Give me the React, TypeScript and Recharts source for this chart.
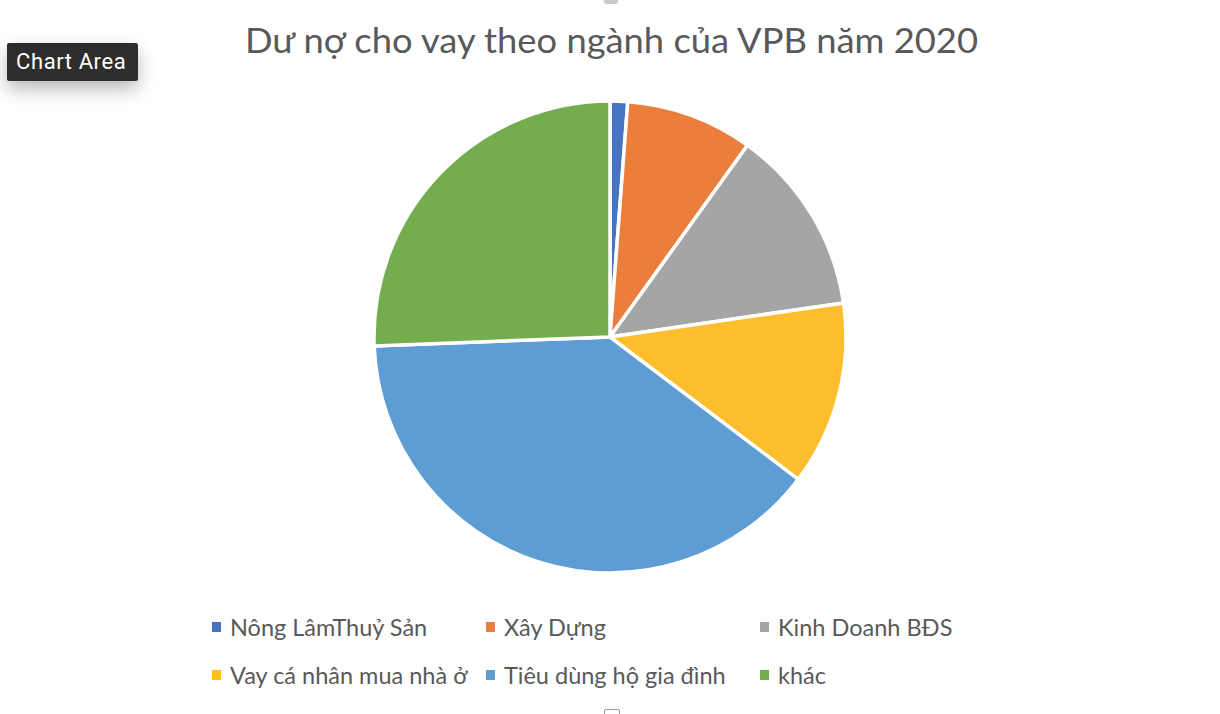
import React from 'react';
import { PieChart, Pie, Cell, Legend } from 'recharts';

const title = 'Dư nợ cho vay theo ngành của VPB năm 2020';
const categories = [
  'Nông LâmThuỷ Sản',
  'Xây Dựng',
  'Kinh Doanh BĐS',
  'Vay cá nhân mua nhà ở',
  'Tiêu dùng hộ gia đình',
  'khác',
];
const shares = [1.2, 8.7, 12.8, 12.6, 39.1, 25.6];
const colors = ['#4674C2', '#EB7E3B', '#A5A5A5', '#FCBE2D', '#5E9CD4', '#74AD4D'];

const data = categories.map((name, i) => ({ name, value: shares[i] }));

const FONT = 'Lato, "Open Sans", sans-serif';

const colX = [212, 486, 760];
const rowY = [627, 675];

function LegendGrid() {
  return (
    <div style={{ position: 'relative', width: 1220, height: 100 }}>
      {categories.map((name, i) => {
        const col = i % 3;
        const row = Math.floor(i / 3);
        const top = rowY[row] - 600;
        return (
          <div
            key={name}
            style={{
              position: 'absolute',
              left: colX[col],
              top: top - 15,
              height: 30,
              display: 'flex',
              alignItems: 'center',
              whiteSpace: 'nowrap',
            }}
          >
            <span
              style={{
                display: 'inline-block',
                width: 9,
                height: 10,
                background: colors[i],
                marginRight: 9,
              }}
            />
            <span style={{ fontFamily: FONT, fontSize: 23.5, color: '#595959' }}>{name}</span>
          </div>
        );
      })}
    </div>
  );
}

export default function App() {
  return (
    <div style={{ position: 'absolute', left: 0, top: 0, width: 1220, height: 714, background: '#fff', overflow: 'hidden' }}>
      <PieChart width={1220} height={714} margin={{ top: 0, right: 0, bottom: 0, left: 0 }}>
        <Pie
          data={data}
          dataKey="value"
          nameKey="name"
          cx={610}
          cy={337}
          outerRadius={236}
          startAngle={90}
          endAngle={-270}
          stroke="#ffffff"
          strokeWidth={3.5}
          isAnimationActive={false}
          legendType="square"
        >
          {data.map((d, i) => (
            <Cell key={d.name} fill={colors[i]} />
          ))}
        </Pie>
        <Legend
          content={<LegendGrid />}
          wrapperStyle={{ position: 'absolute', left: 0, top: 600, width: 1220, height: 100 }}
        />
      </PieChart>
      <svg style={{ position: 'absolute', left: 0, top: 0 }} width={1220} height={80}>
        <text
          x={245}
          y={53}
          fontFamily={FONT}
          fontSize={35}
          fill="#595959"
          textLength={733}
          lengthAdjust="spacingAndGlyphs"
        >
          {title}
        </text>
      </svg>
      <div
        style={{
          position: 'absolute',
          left: 7,
          top: 43,
          width: 131,
          height: 38,
          background: '#2d2d2d',
          borderRadius: 2,
          boxShadow: '0 8px 18px rgba(0,0,0,0.28)',
          color: '#ffffff',
          fontFamily: 'Roboto, "Liberation Sans", sans-serif',
          fontSize: 22,
          letterSpacing: 0.6,
          lineHeight: '38px',
          paddingLeft: 9,
          boxSizing: 'border-box',
          whiteSpace: 'nowrap',
        }}
      >
        Chart Area
      </div>
      <div style={{ position: 'absolute', left: 604, top: 709, width: 14, height: 10, border: '1px solid #9a9a9a', borderRadius: 2, background: '#fff' }} />
      <div style={{ position: 'absolute', left: 604, top: -6, width: 14, height: 10, borderRadius: 3, background: '#c8c8c8' }} />
    </div>
  );
}
